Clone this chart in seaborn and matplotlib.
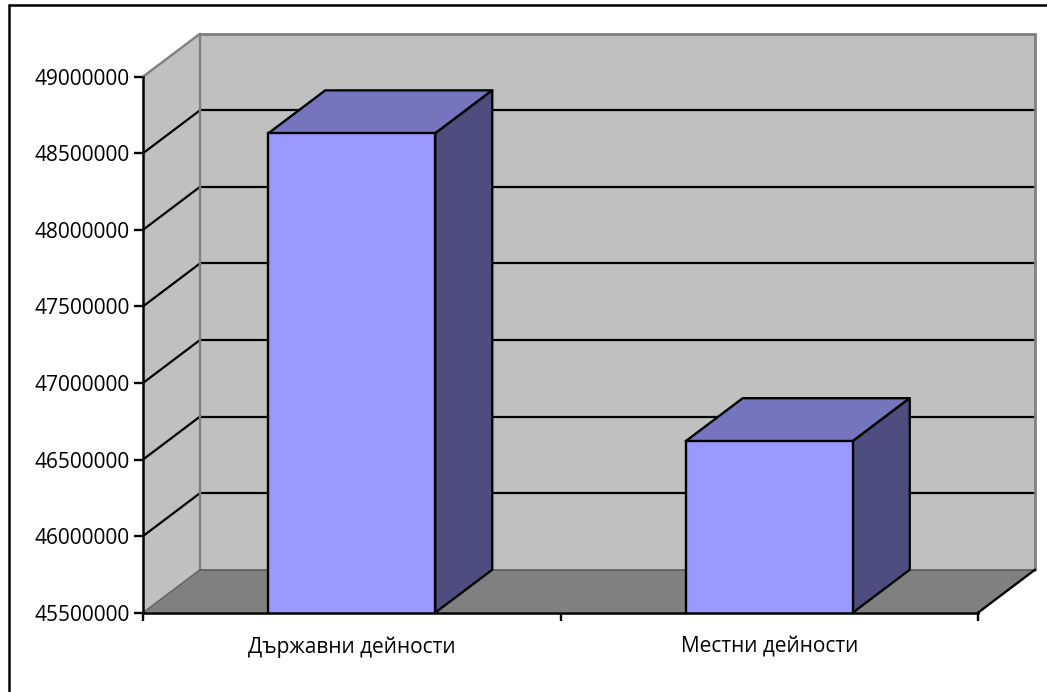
import matplotlib
matplotlib.use("Agg")
import matplotlib.pyplot as plt
import seaborn as sns
from matplotlib.lines import Line2D
from matplotlib.patches import Polygon
from matplotlib.transforms import IdentityTransform

categories = ["Държавни дейности", "Местни дейности"]
values = [48630000, 46620000]
y_ticks = [45500000, 46000000, 46500000, 47000000, 47500000, 48000000, 48500000, 49000000]

# Depth of the fake 3D box, in pixels
DX, DY = 57, 43
FRONT = "#9999FF"
TOP = "#7575BD"
SIDE = "#4D4D80"
WALL = "#C0C0C0"
FLOOR = "#808080"
EDGE = "#808080"

W, H = 1047, 692

sns.set_theme(style="white")
plt.rcParams["font.family"] = ["Open Sans", "DejaVu Sans"]

fig = plt.figure(figsize=(W / 100, H / 100), dpi=100)
ax = fig.add_axes([143 / W, 1 - 612.7 / H, (978 - 143) / W, (612.7 - 76.7) / H])
ax.patch.set_alpha(0)

sns.barplot(x=categories, y=values, width=0.4, color=FRONT, saturation=1,
            edgecolor="black", linewidth=1.7, ax=ax, zorder=3)
ax.set_xlim(-0.5, 1.5)
ax.set_ylim(y_ticks[0], y_ticks[-1])
fig.canvas.draw()


def front(x, y):
    return tuple(ax.transData.transform((x, y)))


def back(x, y):
    px, py = front(x, y)
    return (px + DX, py + DY)


def poly(points, face, edge="none", lw=0, zorder=1):
    ax.add_patch(Polygon(points, closed=True, facecolor=face, edgecolor=edge, linewidth=lw,
                         transform=IdentityTransform(), clip_on=False, zorder=zorder,
                         joinstyle="round"))


def line(p, q, color="black", lw=1.6, zorder=1.5):
    ax.add_line(Line2D([p[0], q[0]], [p[1], q[1]], color=color, linewidth=lw,
                       transform=IdentityTransform(), clip_on=False, zorder=zorder))


x0, x1 = ax.get_xlim()
y0, y1 = ax.get_ylim()

# walls and floor
poly([back(x0, y0), back(x1, y0), back(x1, y1), back(x0, y1)], WALL)
poly([front(x0, y0), back(x0, y0), back(x0, y1), front(x0, y1)], WALL)
poly([front(x0, y0), front(x1, y0), back(x1, y0), back(x0, y0)], FLOOR)

# gridlines run along the side wall and then the back wall
for t in y_ticks[1:-1]:
    line(front(x0, t), back(x0, t))
    line(back(x0, t), back(x1, t))

line(front(x0, y1), back(x0, y1), EDGE, 1.7)
line(back(x0, y1), back(x1, y1), EDGE, 2.0)
line(back(x0, y0), back(x0, y1), EDGE, 1.7)
line(back(x1, y0), back(x1, y1), EDGE, 2.0)
line(back(x0, y0), back(x1, y0), "#5F5F5F", 1.2)
line(front(x0, y0), back(x0, y0), "#5F5F5F", 1.0)
line(front(x1, y0), back(x1, y0), "black", 1.7)

# top and side faces of the bars, taken from the bars seaborn drew
for bar in list(ax.patches):
    if bar.get_zorder() != 3:
        continue
    left = bar.get_x()
    right = left + bar.get_width()
    height = bar.get_height()
    poly([front(left, height), front(right, height), back(right, height), back(left, height)],
         TOP, "black", 1.7, 2.5)
    poly([front(right, y0), back(right, y0), back(right, height), front(right, height)],
         SIDE, "black", 1.7, 2.5)

ax.set_xticks([0, 1])
ax.set_xticklabels(categories)
ax.set_xticks([-0.5, 0.5, 1.5], minor=True)
ax.set_yticks(y_ticks)
ax.set_yticklabels([str(t) for t in y_ticks])
ax.tick_params(axis="x", which="major", length=0, labelsize=15, pad=17, labelcolor="black")
ax.tick_params(axis="x", which="minor", length=6, width=1.7, color="black", bottom=True)
ax.tick_params(axis="y", length=6.5, width=1.7, color="black", left=True, labelsize=15, pad=3,
               labelcolor="black")

for name in ["top", "right"]:
    ax.spines[name].set_visible(False)
for name in ["left", "bottom"]:
    ax.spines[name].set_color("black")
    ax.spines[name].set_linewidth(1.8)
    ax.spines[name].set_zorder(4)

# chart area border, only top and left fall inside the picture
fig.add_artist(Line2D([9 / W, 9 / W], [0, 1 - 5 / H], color="black", linewidth=1.8))
fig.add_artist(Line2D([9 / W, 1], [1 - 5 / H, 1 - 5 / H], color="black", linewidth=1.8))

fig.savefig("out.png", dpi=100)
plt.close(fig)
